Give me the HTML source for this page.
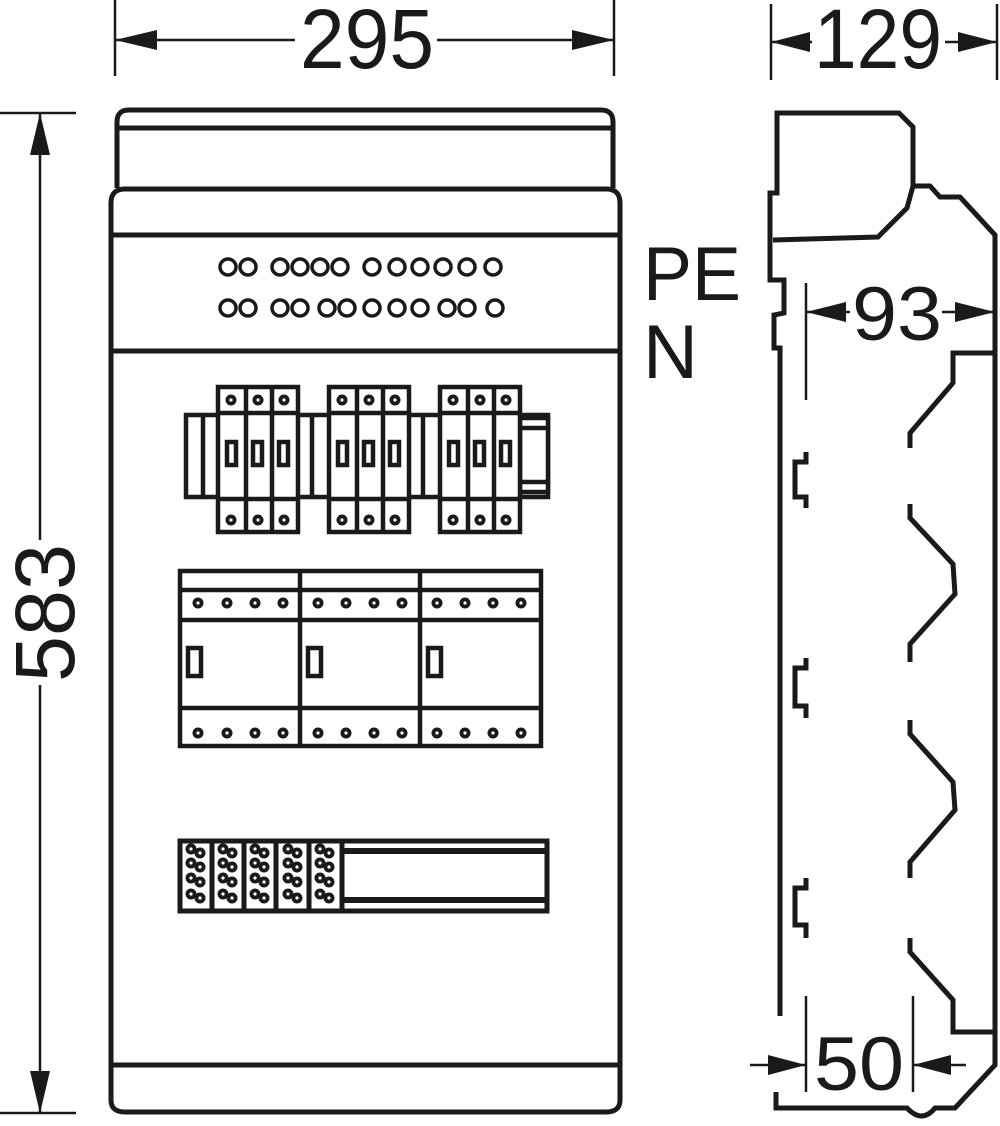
<!DOCTYPE html>
<html><head><meta charset="utf-8"><style>html,body{margin:0;padding:0;background:#fff}svg{display:block}</style></head>
<body>
<svg width="1000" height="1126" viewBox="0 0 1000 1126" xmlns="http://www.w3.org/2000/svg" font-family="Liberation Sans, sans-serif">
<defs>
<g id="d"><circle r="5.5" fill="#1a1a1a"/><circle r="1.6" fill="#fff"/></g>
</defs>
<g fill="none" stroke="#1a1a1a" stroke-width="5" stroke-linejoin="miter">
<path d="M117,188 L117,122 Q117,110 129,110 L601,110 Q613,110 613,122 L613,188"/>
<line x1="117" y1="128" x2="613" y2="128"/>
<path d="M111,1100 L111,203 Q111,189 125,189 L606,189 Q620,189 620,203 L620,1100 Q620,1112 606,1112 L125,1112 Q111,1112 111,1100 Z"/>
<line x1="111" y1="235" x2="618" y2="235"/>
<line x1="111" y1="351" x2="618" y2="351"/>
<line x1="111" y1="1065" x2="620" y2="1065"/>
</g>
<g fill="none" stroke="#1a1a1a" stroke-width="3.5">
<circle cx="228" cy="267" r="8"/><circle cx="248" cy="267" r="8"/><circle cx="280" cy="267" r="8"/><circle cx="300" cy="267" r="8"/><circle cx="320" cy="267" r="8"/><circle cx="340" cy="267" r="8"/><circle cx="372" cy="267" r="8"/><circle cx="397" cy="267" r="8"/><circle cx="420" cy="267" r="8"/><circle cx="443" cy="267" r="8"/><circle cx="467" cy="267" r="8"/><circle cx="493" cy="267" r="8"/>
<circle cx="228" cy="308" r="8"/><circle cx="248" cy="308" r="8"/><circle cx="280" cy="308" r="8"/><circle cx="300" cy="308" r="8"/><circle cx="327" cy="308" r="8"/><circle cx="347" cy="308" r="8"/><circle cx="372" cy="308" r="8"/><circle cx="397" cy="308" r="8"/><circle cx="420" cy="308" r="8"/><circle cx="447" cy="308" r="8"/><circle cx="467" cy="308" r="8"/><circle cx="495" cy="308" r="8"/>
</g>
<!-- rail 1 -->
<g fill="#fff" stroke="#1a1a1a" stroke-width="4.5">
<rect x="186" y="415" width="362" height="82"/>
<rect x="520" y="418" width="28" height="74"/>
<line x1="520" y1="428" x2="548" y2="428"/><line x1="520" y1="482" x2="548" y2="482"/>
<line x1="203" y1="415" x2="203" y2="497"/><line x1="312" y1="415" x2="312" y2="497"/><line x1="423" y1="415" x2="423" y2="497"/>
<rect x="218" y="387" width="80" height="145"/>
<rect x="329" y="387" width="80" height="145"/>
<rect x="440" y="387" width="80" height="145"/>
</g>
<g stroke="#1a1a1a" stroke-width="4.5" fill="none">
<path d="M218,413 H298 M218,499 H298 M329,413 H409 M329,499 H409 M440,413 H520 M440,499 H520"/>
<path d="M246,387 V532 M272,387 V532 M357,387 V532 M383,387 V532 M468,387 V532 M494,387 V532"/>
<rect x="227" y="442" width="9" height="23"/><rect x="253" y="442" width="9" height="23"/><rect x="279" y="442" width="9" height="23"/>
<rect x="338" y="442" width="9" height="23"/><rect x="364" y="442" width="9" height="23"/><rect x="390" y="442" width="9" height="23"/>
<rect x="449" y="442" width="9" height="23"/><rect x="475" y="442" width="9" height="23"/><rect x="501" y="442" width="9" height="23"/>
</g>
<g>
<use href="#d" x="231" y="400"/><use href="#d" x="258" y="400"/><use href="#d" x="284" y="400"/><use href="#d" x="342" y="400"/><use href="#d" x="369" y="400"/><use href="#d" x="395" y="400"/><use href="#d" x="453" y="400"/><use href="#d" x="480" y="400"/><use href="#d" x="506" y="400"/>
<use href="#d" x="231" y="520"/><use href="#d" x="258" y="520"/><use href="#d" x="284" y="520"/><use href="#d" x="342" y="520"/><use href="#d" x="369" y="520"/><use href="#d" x="395" y="520"/><use href="#d" x="453" y="520"/><use href="#d" x="480" y="520"/><use href="#d" x="506" y="520"/>
</g>
<!-- rail 2 -->
<g fill="none" stroke="#1a1a1a" stroke-width="4.5">
<rect x="180" y="571" width="361" height="175"/>
<path d="M180,590 H541 M180,620 H541 M180,708 H541 M300,571 V746 M420,571 V746"/>
<rect x="188" y="648" width="13" height="28"/><rect x="308" y="648" width="13" height="28"/><rect x="428" y="648" width="13" height="28"/>
</g>
<g>
<use href="#d" x="198" y="603"/><use href="#d" x="227" y="603"/><use href="#d" x="255" y="603"/><use href="#d" x="283" y="603"/><use href="#d" x="318" y="603"/><use href="#d" x="346" y="603"/><use href="#d" x="374" y="603"/><use href="#d" x="402" y="603"/><use href="#d" x="437" y="603"/><use href="#d" x="465" y="603"/><use href="#d" x="493" y="603"/><use href="#d" x="521" y="603"/>
<use href="#d" x="198" y="733"/><use href="#d" x="227" y="733"/><use href="#d" x="255" y="733"/><use href="#d" x="283" y="733"/><use href="#d" x="318" y="733"/><use href="#d" x="346" y="733"/><use href="#d" x="374" y="733"/><use href="#d" x="402" y="733"/><use href="#d" x="437" y="733"/><use href="#d" x="465" y="733"/><use href="#d" x="493" y="733"/><use href="#d" x="521" y="733"/>
</g>
<!-- rail 3 -->
<g fill="none" stroke="#1a1a1a" stroke-width="5">
<rect x="180" y="841" width="367" height="70"/>
<path d="M343,851 H547 M343,900 H547" stroke-width="6"/>
<path d="M212,841 V911 M244,841 V911 M276,841 V911 M309,841 V911 M342,841 V911" stroke-width="5"/>
</g>
<g>
<g id="tb">
<use href="#d" x="191" y="849"/><use href="#d" x="200" y="853"/>
<use href="#d" x="191" y="863"/><use href="#d" x="200" y="867"/>
<use href="#d" x="191" y="878"/><use href="#d" x="200" y="882"/>
<use href="#d" x="191" y="894"/><use href="#d" x="200" y="898"/>
</g>
<use href="#tb" x="32"/><use href="#tb" x="64"/><use href="#tb" x="97"/><use href="#tb" x="129"/>
</g>
<!-- dimensions -->
<g stroke="#1a1a1a" stroke-width="2.5" fill="none">
<path d="M115,0 V76 M614,0 V76 M115,40 H295 M437,40 H614"/>
<path d="M0,113 H76 M0,1113 H76 M40,113 V540 M40,685 V1113"/>
<path d="M771,4 V80 M997,4 V80 M771,42 H812 M945,42 H997"/>
<path d="M806,283 V400 M806,312 H850 M942,312 H995"/>
<path d="M806,996 V1092 M913,996 V1092 M750,1065 H806 M913,1065 H966"/>
</g>
<g fill="#1a1a1a">
<path d="M115,40 L157,30 L157,50 Z M614,40 L572,30 L572,50 Z"/>
<path d="M40,113 L30,155 L50,155 Z M40,1113 L30,1071 L50,1071 Z"/>
<path d="M771,42 L810,32 L810,52 Z M997,42 L958,32 L958,52 Z"/>
<path d="M806,312 L846,302 L846,322 Z M995,312 L955,302 L955,322 Z"/>
<path d="M806,1065 L768,1055 L768,1075 Z M913,1065 L951,1055 L951,1075 Z"/>
</g>
<g fill="#1a1a1a" font-size="84">
<text x="300" y="68" textLength="134" lengthAdjust="spacingAndGlyphs">295</text>
<text x="814" y="68" textLength="128" lengthAdjust="spacingAndGlyphs">129</text>
<text x="852" y="340" font-size="76" textLength="90" lengthAdjust="spacingAndGlyphs">93</text>
<text x="814" y="1090" font-size="76" textLength="90" lengthAdjust="spacingAndGlyphs">50</text>
<text transform="translate(74,682) rotate(-90)" textLength="138" lengthAdjust="spacingAndGlyphs">583</text>
<text x="643" y="300" font-size="76" textLength="98" lengthAdjust="spacingAndGlyphs">PE</text>
<text x="643" y="378" font-size="76">N</text>
</g>
<!-- side view -->
<g fill="none" stroke="#1a1a1a" stroke-width="5" stroke-linejoin="miter">
<path d="M780,1016 L780,348 L774,348 L774,315 L784,313 L784,280 L770,280 L770,193 L777,193 L777,113 L899,113 L913,127 L913,186 L930,186 L940,197 L960,197 L995,235 L995,1065 L955,1108 L935,1108 Q922,1124 907,1108 L776,1108 L776,1092"/>
<path d="M773,240 L878,237 L907,208 L913,186"/>
<path d="M995,353 L953,353 L953,383 L910,433 L910,448"/>
<path d="M910,504 L910,518 L953,564 L955,594 L910,644 L910,662"/>
<path d="M910,720 L910,734 L953,782 L955,810 L910,862 L910,878"/>
<path d="M910,938 L910,952 L953,1000 L953,1032 L995,1032"/>
<path d="M806,452 V462 H795 V497 H806 V508"/>
<path d="M806,658 V668 H795 V706 H806 V718"/>
<path d="M806,878 V888 H795 V925 H806 V938"/>
</g>
</svg>
</body></html>
